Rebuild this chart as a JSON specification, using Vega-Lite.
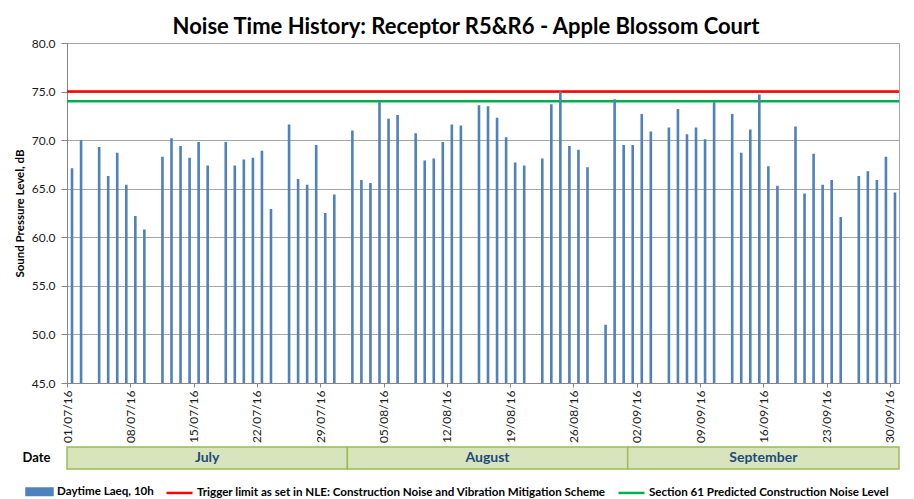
{
  "$schema": "https://vega.github.io/schema/vega-lite/v6.json",
  "autosize": "none",
  "padding": {"left": 67, "top": 43, "right": 847, "bottom": 456},
  "background": "white",
  "title": {
    "text": "Noise Time History: Receptor R5&R6 - Apple Blossom Court",
    "font": "Lato", "fontSize": 22, "fontWeight": "bold", "color": "#000000",
    "anchor": "middle", "frame": "group", "dx": -17, "offset": -2
  },
  "config": {
    "font": "Lato",
    "view": {"stroke": "#A6A6A6"},
    "axis": {"labelFont": "Lato", "titleFont": "Lato", "labelColor": "#1a1a1a", "titleColor": "#000000", "domainColor": "#868686", "tickColor": "#868686"}
  },
  "bounds": "flush",
  "spacing": 64,
  "vconcat": [
    {
      "width": 832,
      "height": 340,
      "layer": [
        {
          "data": {"values": [
            {"series": "Trigger limit as set in NLE: Construction Noise and Vibration Mitigation Scheme", "level": 75},
            {"series": "Section 61 Predicted Construction Noise Level", "level": 74}
          ]},
          "mark": {"type": "rule", "strokeWidth": 2.5},
          "encoding": {
            "y": {"field": "level", "type": "quantitative", "scale": {"domain": [45, 80], "nice": false}},
            "color": {
              "field": "series", "type": "nominal",
              "scale": {
                "domain": ["Daytime Laeq, 10h", "Trigger limit as set in NLE: Construction Noise and Vibration Mitigation Scheme", "Section 61 Predicted Construction Noise Level"],
                "range": ["#4F81BD", "#FF0000", "#00B050"]
              },
              "legend": {
                "orient": "none", "legendX": -42, "legendY": 434,
                "direction": "horizontal", "columns": 3, "title": null,
                "symbolSize": 676, "symbolStrokeWidth": 2.5,
                "labelFont": "Lato", "labelFontSize": 11.6, "labelFontWeight": "bold", "labelColor": "#000000",
                "labelOffset": 3, "columnPadding": 7, "labelLimit": 1000,
                "encode": {
                  "symbols": {
                    "update": {
                      "shape": {"signal": "datum.index === 0 ? 'M-1,-0.25H1V0.25H-1Z' : 'stroke'"},
                      "fill": {"signal": "datum.index === 0 ? '#4F81BD' : 'transparent'"},
                      "stroke": {"signal": "datum.index === 0 ? 'transparent' : (datum.index === 1 ? '#FF0000' : '#00B050')"},
                      "strokeWidth": {"value": 2.5},
                      "opacity": {"value": 1}
                    }
                  }
                }
              }
            }
          }
        },
        {
          "data": {
            "values": [
              {"date": "01/07/16", "laeq": 67.1, "series": "Daytime Laeq, 10h"},
              {"date": "02/07/16", "laeq": 70.0, "series": "Daytime Laeq, 10h"},
              {"date": "04/07/16", "laeq": 69.3, "series": "Daytime Laeq, 10h"},
              {"date": "05/07/16", "laeq": 66.3, "series": "Daytime Laeq, 10h"},
              {"date": "06/07/16", "laeq": 68.7, "series": "Daytime Laeq, 10h"},
              {"date": "07/07/16", "laeq": 65.4, "series": "Daytime Laeq, 10h"},
              {"date": "08/07/16", "laeq": 62.2, "series": "Daytime Laeq, 10h"},
              {"date": "09/07/16", "laeq": 60.8, "series": "Daytime Laeq, 10h"},
              {"date": "11/07/16", "laeq": 68.3, "series": "Daytime Laeq, 10h"},
              {"date": "12/07/16", "laeq": 70.2, "series": "Daytime Laeq, 10h"},
              {"date": "13/07/16", "laeq": 69.4, "series": "Daytime Laeq, 10h"},
              {"date": "14/07/16", "laeq": 68.2, "series": "Daytime Laeq, 10h"},
              {"date": "15/07/16", "laeq": 69.8, "series": "Daytime Laeq, 10h"},
              {"date": "16/07/16", "laeq": 67.4, "series": "Daytime Laeq, 10h"},
              {"date": "18/07/16", "laeq": 69.8, "series": "Daytime Laeq, 10h"},
              {"date": "19/07/16", "laeq": 67.4, "series": "Daytime Laeq, 10h"},
              {"date": "20/07/16", "laeq": 68.0, "series": "Daytime Laeq, 10h"},
              {"date": "21/07/16", "laeq": 68.2, "series": "Daytime Laeq, 10h"},
              {"date": "22/07/16", "laeq": 68.9, "series": "Daytime Laeq, 10h"},
              {"date": "23/07/16", "laeq": 62.9, "series": "Daytime Laeq, 10h"},
              {"date": "25/07/16", "laeq": 71.6, "series": "Daytime Laeq, 10h"},
              {"date": "26/07/16", "laeq": 66.0, "series": "Daytime Laeq, 10h"},
              {"date": "27/07/16", "laeq": 65.4, "series": "Daytime Laeq, 10h"},
              {"date": "28/07/16", "laeq": 69.5, "series": "Daytime Laeq, 10h"},
              {"date": "29/07/16", "laeq": 62.5, "series": "Daytime Laeq, 10h"},
              {"date": "30/07/16", "laeq": 64.4, "series": "Daytime Laeq, 10h"},
              {"date": "01/08/16", "laeq": 71.0, "series": "Daytime Laeq, 10h"},
              {"date": "02/08/16", "laeq": 65.9, "series": "Daytime Laeq, 10h"},
              {"date": "03/08/16", "laeq": 65.6, "series": "Daytime Laeq, 10h"},
              {"date": "04/08/16", "laeq": 73.9, "series": "Daytime Laeq, 10h"},
              {"date": "05/08/16", "laeq": 72.2, "series": "Daytime Laeq, 10h"},
              {"date": "06/08/16", "laeq": 72.6, "series": "Daytime Laeq, 10h"},
              {"date": "08/08/16", "laeq": 70.7, "series": "Daytime Laeq, 10h"},
              {"date": "09/08/16", "laeq": 67.9, "series": "Daytime Laeq, 10h"},
              {"date": "10/08/16", "laeq": 68.1, "series": "Daytime Laeq, 10h"},
              {"date": "11/08/16", "laeq": 69.8, "series": "Daytime Laeq, 10h"},
              {"date": "12/08/16", "laeq": 71.6, "series": "Daytime Laeq, 10h"},
              {"date": "13/08/16", "laeq": 71.5, "series": "Daytime Laeq, 10h"},
              {"date": "15/08/16", "laeq": 73.6, "series": "Daytime Laeq, 10h"},
              {"date": "16/08/16", "laeq": 73.5, "series": "Daytime Laeq, 10h"},
              {"date": "17/08/16", "laeq": 72.3, "series": "Daytime Laeq, 10h"},
              {"date": "18/08/16", "laeq": 70.3, "series": "Daytime Laeq, 10h"},
              {"date": "19/08/16", "laeq": 67.7, "series": "Daytime Laeq, 10h"},
              {"date": "20/08/16", "laeq": 67.4, "series": "Daytime Laeq, 10h"},
              {"date": "22/08/16", "laeq": 68.1, "series": "Daytime Laeq, 10h"},
              {"date": "23/08/16", "laeq": 73.7, "series": "Daytime Laeq, 10h"},
              {"date": "24/08/16", "laeq": 75.0, "series": "Daytime Laeq, 10h"},
              {"date": "25/08/16", "laeq": 69.4, "series": "Daytime Laeq, 10h"},
              {"date": "26/08/16", "laeq": 69.0, "series": "Daytime Laeq, 10h"},
              {"date": "27/08/16", "laeq": 67.2, "series": "Daytime Laeq, 10h"},
              {"date": "29/08/16", "laeq": 51.0, "series": "Daytime Laeq, 10h"},
              {"date": "30/08/16", "laeq": 74.2, "series": "Daytime Laeq, 10h"},
              {"date": "31/08/16", "laeq": 69.5, "series": "Daytime Laeq, 10h"},
              {"date": "01/09/16", "laeq": 69.5, "series": "Daytime Laeq, 10h"},
              {"date": "02/09/16", "laeq": 72.7, "series": "Daytime Laeq, 10h"},
              {"date": "03/09/16", "laeq": 70.9, "series": "Daytime Laeq, 10h"},
              {"date": "05/09/16", "laeq": 71.3, "series": "Daytime Laeq, 10h"},
              {"date": "06/09/16", "laeq": 73.2, "series": "Daytime Laeq, 10h"},
              {"date": "07/09/16", "laeq": 70.6, "series": "Daytime Laeq, 10h"},
              {"date": "08/09/16", "laeq": 71.3, "series": "Daytime Laeq, 10h"},
              {"date": "09/09/16", "laeq": 70.1, "series": "Daytime Laeq, 10h"},
              {"date": "10/09/16", "laeq": 73.9, "series": "Daytime Laeq, 10h"},
              {"date": "12/09/16", "laeq": 72.7, "series": "Daytime Laeq, 10h"},
              {"date": "13/09/16", "laeq": 68.7, "series": "Daytime Laeq, 10h"},
              {"date": "14/09/16", "laeq": 71.1, "series": "Daytime Laeq, 10h"},
              {"date": "15/09/16", "laeq": 74.7, "series": "Daytime Laeq, 10h"},
              {"date": "16/09/16", "laeq": 67.3, "series": "Daytime Laeq, 10h"},
              {"date": "17/09/16", "laeq": 65.3, "series": "Daytime Laeq, 10h"},
              {"date": "19/09/16", "laeq": 71.4, "series": "Daytime Laeq, 10h"},
              {"date": "20/09/16", "laeq": 64.5, "series": "Daytime Laeq, 10h"},
              {"date": "21/09/16", "laeq": 68.6, "series": "Daytime Laeq, 10h"},
              {"date": "22/09/16", "laeq": 65.4, "series": "Daytime Laeq, 10h"},
              {"date": "23/09/16", "laeq": 65.9, "series": "Daytime Laeq, 10h"},
              {"date": "24/09/16", "laeq": 62.1, "series": "Daytime Laeq, 10h"},
              {"date": "26/09/16", "laeq": 66.3, "series": "Daytime Laeq, 10h"},
              {"date": "27/09/16", "laeq": 66.8, "series": "Daytime Laeq, 10h"},
              {"date": "28/09/16", "laeq": 65.9, "series": "Daytime Laeq, 10h"},
              {"date": "29/09/16", "laeq": 68.3, "series": "Daytime Laeq, 10h"},
              {"date": "30/09/16", "laeq": 64.6, "series": "Daytime Laeq, 10h"}
            ],
            "format": {"parse": {"date": "date:'%d/%m/%y'"}}
          },
          "mark": {"type": "bar", "width": {"band": 0.4}, "clip": true},
          "encoding": {
            "x": {
              "field": "date", "timeUnit": "yearmonthdate", "type": "temporal",
              "scale": {"domain": [{"year": 2016, "month": 7, "date": 1}, {"year": 2016, "month": 10, "date": 1}]},
              "axis": {
                "title": null,
                "values": [
                  {"year": 2016, "month": 7, "date": 1}, {"year": 2016, "month": 7, "date": 8},
                  {"year": 2016, "month": 7, "date": 15}, {"year": 2016, "month": 7, "date": 22},
                  {"year": 2016, "month": 7, "date": 29}, {"year": 2016, "month": 8, "date": 5},
                  {"year": 2016, "month": 8, "date": 12}, {"year": 2016, "month": 8, "date": 19},
                  {"year": 2016, "month": 8, "date": 26}, {"year": 2016, "month": 9, "date": 2},
                  {"year": 2016, "month": 9, "date": 9}, {"year": 2016, "month": 9, "date": 16},
                  {"year": 2016, "month": 9, "date": 23}, {"year": 2016, "month": 9, "date": 30}
                ],
                "format": "%d/%m/%y", "labelAngle": 270, "labelFontSize": 12,
                "tickSize": 4, "labelPadding": 3, "grid": false,
                "labelFlush": false, "labelOverlap": false
              }
            },
            "y": {
              "field": "laeq", "type": "quantitative",
              "scale": {"domain": [45, 80], "nice": false},
              "axis": {
                "title": "Sound Pressure Level, dB", "titleFontWeight": "bold", "titleFontSize": 11.5, "titlePadding": 6,
                "values": [45, 50, 55, 60, 65, 70, 75, 80], "format": ".1f",
                "labelFontSize": 12, "tickSize": 6, "labelPadding": 6,
                "grid": true, "gridColor": "#A6A6A6"
              }
            },
            "color": {"field": "series", "type": "nominal"}
          }
        }
      ]
    },
    {
      "width": 832,
      "height": 22,
      "view": {"stroke": null},
      "data": {
        "values": [
          {"row": "Date", "month": "July", "start": "01/07/16", "end": "01/08/16"},
          {"row": "Date", "month": "August", "start": "01/08/16", "end": "01/09/16"},
          {"row": "Date", "month": "September", "start": "01/09/16", "end": "01/10/16"}
        ],
        "format": {"parse": {"start": "date:'%d/%m/%y'", "end": "date:'%d/%m/%y'"}}
      },
      "encoding": {
        "y": {
          "field": "row", "type": "nominal",
          "axis": {"title": null, "domain": false, "ticks": false, "labelFontWeight": "bold", "labelFontSize": 13, "labelPadding": 17, "labelColor": "#000000"}
        }
      },
      "layer": [
        {
          "mark": {"type": "rect", "fill": "#D8E4BC", "stroke": "#9BBB59", "strokeWidth": 1.5},
          "encoding": {
            "x": {"field": "start", "type": "temporal", "scale": {"domain": [{"year": 2016, "month": 7, "date": 1}, {"year": 2016, "month": 10, "date": 1}]}, "axis": null},
            "x2": {"field": "end"}
          }
        },
        {
          "mark": {"type": "text", "font": "Lato", "fontSize": 14, "fontWeight": "bold", "color": "#1F497D"},
          "encoding": {
            "x": {"field": "start", "timeUnit": "yearmonth", "type": "temporal", "bandPosition": 0.5},
            "text": {"field": "month"}
          }
        }
      ]
    }
  ]
}
